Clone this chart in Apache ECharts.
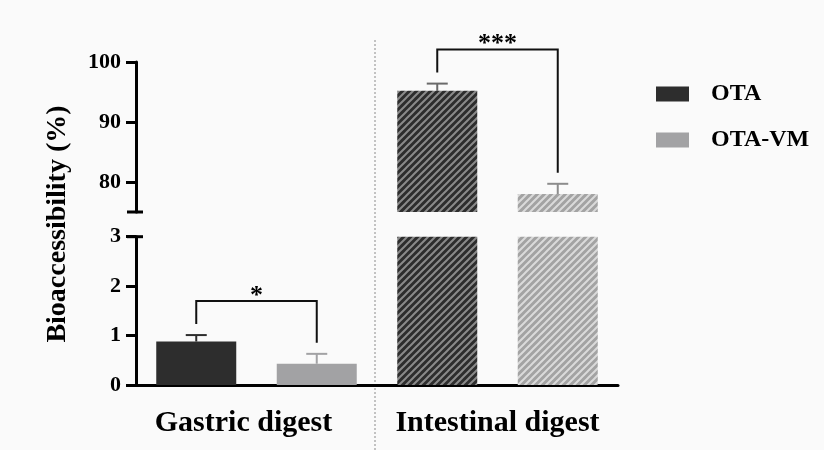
<!DOCTYPE html>
<html>
<head>
<meta charset="utf-8">
<script src="https://cdn.jsdelivr.net/npm/echarts@6/dist/echarts.min.js"></script>
<style>
  html, body { margin: 0; padding: 0; background: #fafafa; }
  #chart { width: 824px; height: 450px; }
</style>
</head>
<body>
<div id="chart"></div>
<script>
// ---- data ----
const groups = ['Gastric digest', 'Intestinal digest'];
const seriesNames = ['OTA', 'OTA-VM'];
const otaMean = [0.88, 95.2];
const otaSD = [0.13, 1.2];
const vmMean = [0.43, 78.0];
const vmSD = [0.20, 1.7];
const significance = ['*', '***'];
const lowerTicks = [0, 1, 2, 3];
const upperTicks = [80, 90, 100];
const lowerRange = [0, 3];
const upperRange = [75, 100];

// ---- styling ----
const SERIF = '"Liberation Serif", "Times New Roman", serif';
const solidColors = ['#2d2d2d', '#a2a2a4'];
const hatchBg = ['#2d2d2d', '#a3a3a3'];
const hatchFg = ['#8a8a8a', '#dadada'];
const errColorsSolid = ['#2d2d2d', '#a2a2a4'];
const errColorsHatched = ['#6a6a6a', '#8c8c8c'];
const GRID_LEFT = 136, GRID_RIGHT = 206;

function hatch(bg, fg) {
  const s = 7;
  const c = document.createElement('canvas');
  c.width = s; c.height = s;
  const g = c.getContext('2d');
  g.fillStyle = bg; g.fillRect(0, 0, s, s);
  g.strokeStyle = fg; g.lineWidth = 2;
  g.beginPath();
  g.moveTo(0, s); g.lineTo(s, 0);
  g.moveTo(-1, 1); g.lineTo(1, -1);
  g.moveTo(s - 1, s + 1); g.lineTo(s + 1, s - 1);
  g.stroke();
  return { image: c, repeat: 'repeat' };
}
const hatchPatterns = [hatch(hatchBg[0], hatchFg[0]), hatch(hatchBg[1], hatchFg[1])];

const means = [otaMean, vmMean];
const sds = [otaSD, vmSD];
const slots = [];
groups.forEach((g, gi) => seriesNames.forEach((s, si) => slots.push(g + ' / ' + s)));
// A group whose values reach the upper segment is drawn hatched across the break
const broken = groups.map((g, gi) => means.some(m => m[gi] > lowerRange[1]));

function barData(si, inUpper) {
  const arr = slots.map(() => null);
  groups.forEach((g, gi) => {
    const v = means[si][gi];
    if (inUpper && v <= upperRange[0]) return;
    arr[gi * 2 + si] = {
      value: v,
      itemStyle: { color: broken[gi] ? hatchPatterns[si] : solidColors[si] }
    };
  });
  return arr;
}

function errData(si, inUpper) {
  const out = [];
  groups.forEach((g, gi) => {
    const up = means[si][gi] > lowerRange[1];
    if (up === inUpper) out.push([gi * 2 + si, means[si][gi], sds[si][gi], gi]);
  });
  return out;
}

function errRender(si) {
  return function (params, api) {
    const slot = api.value(0), m = api.value(1), e = api.value(2), gi = api.value(3);
    const c = broken[gi] ? errColorsHatched[si] : errColorsSolid[si];
    const b = api.coord([slot, m]);
    const t = api.coord([slot, m + e]);
    const half = 10.5;
    return {
      type: 'group',
      children: [
        { type: 'line', shape: { x1: b[0], y1: b[1], x2: t[0], y2: t[1] }, style: { stroke: c, lineWidth: 2 } },
        { type: 'line', shape: { x1: t[0] - half, y1: t[1], x2: t[0] + half, y2: t[1] }, style: { stroke: c, lineWidth: 2 } }
      ]
    };
  };
}

function bracketData(inUpper) {
  const out = [];
  groups.forEach((g, gi) => {
    const up = means[0][gi] > lowerRange[1] || means[1][gi] > lowerRange[1];
    if (up !== inUpper) return;
    out.push([gi * 2, gi * 2 + 1, otaMean[gi] + otaSD[gi], vmMean[gi] + vmSD[gi], gi]);
  });
  return out;
}

function bracketRender(params, api) {
  const gi = api.value(4);
  const pL = api.coord([api.value(0), api.value(2)]);
  const pR = api.coord([api.value(1), api.value(3)]);
  const legL = pL[1] - 11, legR = pR[1] - 11;
  const level = Math.min(legL, legR) - 23;
  return {
    type: 'group',
    children: [
      {
        type: 'polyline',
        shape: { points: [[pL[0], legL], [pL[0], level], [pR[0], level], [pR[0], legR]] },
        style: { stroke: '#111', lineWidth: 2, fill: null }
      },
      {
        type: 'text',
        style: {
          text: significance[gi], x: (pL[0] + pR[0]) / 2, y: level + 8,
          align: 'center', verticalAlign: 'bottom',
          font: 'bold 26px ' + SERIF, fill: '#000'
        }
      }
    ]
  };
}

function breakRender(params, api) {
  const p = api.coord([0, api.value(1)]);
  const x = params.coordSys.x;
  return {
    type: 'line',
    shape: { x1: x - 9, y1: p[1], x2: x + 7, y2: p[1] },
    style: { stroke: '#000', lineWidth: 3 }
  };
}

const axisLineStyle = { color: '#000', width: 3 };
const tickLabel = { color: '#000', fontFamily: SERIF, fontWeight: 'bold', fontSize: 22, margin: 15 };
const groupLabelFont = { color: '#000', fontFamily: SERIF, fontWeight: 'bold', fontSize: 30 };

const chart = echarts.init(document.getElementById('chart'), null, { renderer: 'canvas' });

const series = [];
seriesNames.forEach((name, si) => {
  series.push({
    name, type: 'bar', xAxisIndex: 0, yAxisIndex: 0,
    barWidth: 80, barGap: '-100%', clip: true,
    itemStyle: { color: solidColors[si] },
    data: barData(si, false), z: 2
  });
  series.push({
    name, type: 'bar', xAxisIndex: 2, yAxisIndex: 1,
    barWidth: 80, barGap: '-100%', clip: true,
    itemStyle: { color: solidColors[si] },
    data: barData(si, true), z: 2
  });
  series.push({
    name: name + ' SD', type: 'custom', xAxisIndex: 0, yAxisIndex: 0,
    renderItem: errRender(si), data: errData(si, false), z: 1, silent: true
  });
  series.push({
    name: name + ' SD', type: 'custom', xAxisIndex: 2, yAxisIndex: 1,
    renderItem: errRender(si), data: errData(si, true), z: 1, silent: true
  });
});
series.push({ type: 'custom', xAxisIndex: 0, yAxisIndex: 0, renderItem: bracketRender, data: bracketData(false), z: 5, silent: true });
series.push({ type: 'custom', xAxisIndex: 2, yAxisIndex: 1, renderItem: bracketRender, data: bracketData(true), z: 5, silent: true });
series.push({ type: 'custom', xAxisIndex: 0, yAxisIndex: 0, renderItem: breakRender, data: [[0, lowerRange[1]]], z: 6, silent: true });
series.push({ type: 'custom', xAxisIndex: 2, yAxisIndex: 1, renderItem: breakRender, data: [[0, upperRange[0]]], z: 6, silent: true });

chart.setOption({
  backgroundColor: '#fafafa',
  animation: false,
  legend: {
    data: seriesNames,
    orient: 'vertical',
    left: 651, top: 77,
    itemWidth: 33, itemHeight: 15, itemGap: 22,
    icon: 'rect',
    textStyle: { color: '#000', fontFamily: SERIF, fontWeight: 'bold', fontSize: 24, padding: [0, 0, 0, 17] }
  },
  grid: [
    { left: GRID_LEFT, right: GRID_RIGHT, top: 236.7, bottom: 65 },
    { left: GRID_LEFT, right: GRID_RIGHT, top: 62, height: 150 }
  ],
  xAxis: [
    {
      type: 'category', gridIndex: 0, data: slots, position: 'bottom',
      axisLine: { lineStyle: axisLineStyle },
      axisTick: { alignWithLabel: true, length: 8, lineStyle: { color: '#000', width: 3 } },
      axisLabel: { show: false }
    },
    {
      type: 'category', gridIndex: 0, data: groups, position: 'bottom',
      axisLine: { show: false }, axisTick: { show: false },
      axisLabel: Object.assign({
        interval: 0, margin: 23,
        formatter: (v, i) => i === 0 ? '{first|' + v + '}' : v,
        rich: { first: Object.assign({ padding: [0, 26, 0, 0] }, groupLabelFont) }
      }, groupLabelFont)
    },
    {
      type: 'category', gridIndex: 1, data: slots, show: false
    }
  ],
  yAxis: [
    {
      type: 'value', gridIndex: 0, min: lowerRange[0], max: lowerRange[1], interval: 1,
      axisLine: { show: true, lineStyle: axisLineStyle },
      axisTick: { show: true, length: 10, lineStyle: { color: '#000', width: 3 }, customValues: lowerTicks },
      axisLabel: Object.assign({ customValues: lowerTicks }, tickLabel),
      splitLine: { show: false }
    },
    {
      type: 'value', gridIndex: 1, min: upperRange[0], max: upperRange[1],
      axisLine: { show: true, lineStyle: axisLineStyle },
      axisTick: { show: true, length: 10, lineStyle: { color: '#000', width: 3 }, customValues: upperTicks },
      axisLabel: Object.assign({ customValues: upperTicks }, tickLabel),
      splitLine: { show: false }
    }
  ],
  graphic: [
    {
      type: 'text', x: 58, y: 224, rotation: Math.PI / 2,
      style: {
        text: 'Bioaccessibility (%)', align: 'center', verticalAlign: 'middle',
        font: 'bold 28px ' + SERIF, fill: '#000'
      }
    },
    {
      type: 'line',
      shape: { x1: GRID_LEFT + (824 - GRID_LEFT - GRID_RIGHT) / 2 - 2, y1: 40, x2: GRID_LEFT + (824 - GRID_LEFT - GRID_RIGHT) / 2 - 2, y2: 450 },
      style: { stroke: '#8a8a8a', lineWidth: 1, lineDash: [2, 2] }
    }
  ],
  series
});
</script>
</body>
</html>
